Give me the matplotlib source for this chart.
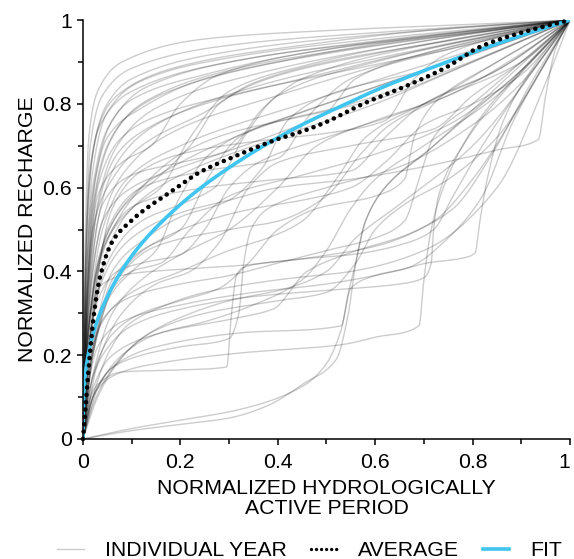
import numpy as np
import matplotlib
matplotlib.use("Agg")
import matplotlib.pyplot as plt
from matplotlib.lines import Line2D

plt.rcParams['font.family'] = ['Liberation Sans', 'DejaVu Sans']

# curves, (x, y) knots
year_curves = [
    [(0, 0), (0.004, 0.45), (0.012, 0.72), (0.03, 0.83), (0.08, 0.9), (0.25, 0.955), (0.5, 0.975), (0.8, 0.99), (1, 1)],
    [(0, 0), (0.005, 0.42), (0.015, 0.7), (0.04, 0.82), (0.1, 0.885), (0.3, 0.94), (0.6, 0.97), (1, 1)],
    [(0, 0), (0.006, 0.4), (0.018, 0.66), (0.045, 0.79), (0.1, 0.86), (0.3, 0.925), (0.6, 0.965), (1, 1)],
    [(0, 0), (0.007, 0.38), (0.02, 0.64), (0.05, 0.78), (0.12, 0.855), (0.3, 0.91), (0.6, 0.955), (1, 1)],
    [(0, 0), (0.008, 0.35), (0.025, 0.62), (0.06, 0.76), (0.13, 0.84), (0.35, 0.91), (0.7, 0.96), (1, 1)],
    [(0, 0), (0.008, 0.33), (0.025, 0.58), (0.06, 0.72), (0.12, 0.8), (0.3, 0.88), (0.6, 0.94), (1, 1)],
    [(0, 0), (0.01, 0.32), (0.03, 0.56), (0.07, 0.7), (0.15, 0.79), (0.35, 0.87), (0.7, 0.95), (1, 1)],
    [(0, 0), (0.01, 0.3), (0.03, 0.52), (0.07, 0.66), (0.15, 0.75), (0.35, 0.84), (0.65, 0.92), (1, 1)],
    [(0, 0), (0.01, 0.28), (0.035, 0.5), (0.08, 0.63), (0.18, 0.73), (0.4, 0.82), (0.7, 0.92), (1, 1)],
    [(0, 0), (0.012, 0.27), (0.04, 0.5), (0.09, 0.62), (0.2, 0.7), (0.45, 0.8), (0.75, 0.91), (1, 1)],
    [(0, 0), (0.006, 0.36), (0.02, 0.6), (0.05, 0.74), (0.1, 0.81), (0.25, 0.87), (0.5, 0.93), (0.8, 0.97), (1, 1)],
    [(0, 0), (0.005, 0.4), (0.015, 0.65), (0.04, 0.76), (0.1, 0.83), (0.3, 0.9), (0.6, 0.95), (1, 1)],
    [(0, 0), (0.01, 0.25), (0.04, 0.46), (0.1, 0.58), (0.2, 0.66), (0.4, 0.76), (0.6, 0.84), (0.8, 0.92), (1, 1)],
    [(0, 0), (0.015, 0.24), (0.05, 0.45), (0.1, 0.55), (0.2, 0.63), (0.4, 0.72), (0.6, 0.8), (0.8, 0.9), (1, 1)],
    [(0, 0), (0.007, 0.3), (0.02, 0.55), (0.05, 0.7), (0.1, 0.78), (0.2, 0.84), (0.4, 0.9), (0.7, 0.96), (1, 1)],
    [(0, 0), (0.006, 0.33), (0.02, 0.58), (0.05, 0.72), (0.12, 0.79), (0.25, 0.86), (0.5, 0.92), (1, 1)],
    [(0, 0), (0.01, 0.25), (0.04, 0.45), (0.1, 0.55), (0.16, 0.6), (0.22, 0.72), (0.3, 0.83), (0.45, 0.89), (0.7, 0.95), (1, 1)],
    [(0, 0), (0.01, 0.2), (0.05, 0.42), (0.12, 0.52), (0.2, 0.56), (0.27, 0.6), (0.33, 0.72), (0.4, 0.82), (0.6, 0.9), (1, 1)],
    [(0, 0), (0.01, 0.3), (0.04, 0.56), (0.1, 0.63), (0.2, 0.66), (0.3, 0.69), (0.37, 0.79), (0.45, 0.86), (0.7, 0.94), (1, 1)],
    [(0, 0), (0.015, 0.25), (0.05, 0.5), (0.12, 0.6), (0.25, 0.64), (0.4, 0.67), (0.47, 0.78), (0.55, 0.86), (0.75, 0.93), (1, 1)],
    [(0, 0), (0.02, 0.2), (0.06, 0.38), (0.12, 0.45), (0.2, 0.5), (0.26, 0.63), (0.32, 0.72), (0.45, 0.78), (0.65, 0.86), (0.85, 0.94), (1, 1)],
    [(0, 0), (0.01, 0.35), (0.03, 0.58), (0.08, 0.66), (0.14, 0.7), (0.2, 0.8), (0.28, 0.87), (0.5, 0.93), (1, 1)],
    [(0, 0), (0.02, 0.22), (0.06, 0.4), (0.13, 0.48), (0.2, 0.53), (0.3, 0.57), (0.37, 0.65), (0.42, 0.76), (0.5, 0.82), (0.7, 0.88), (1, 1)],
    [(0, 0), (0.01, 0.28), (0.04, 0.52), (0.1, 0.6), (0.18, 0.64), (0.28, 0.68), (0.4, 0.73), (0.5, 0.78), (0.56, 0.86), (0.7, 0.92), (1, 1)],
    [(0, 0), (0.015, 0.18), (0.05, 0.33), (0.1, 0.4), (0.15, 0.45), (0.2, 0.58), (0.26, 0.68), (0.35, 0.74), (0.55, 0.8), (0.75, 0.88), (1, 1)],
    [(0, 0), (0.02, 0.15), (0.06, 0.3), (0.12, 0.38), (0.2, 0.44), (0.3, 0.5), (0.4, 0.6), (0.48, 0.7), (0.6, 0.76), (0.75, 0.82), (0.9, 0.92), (1, 1)],
    [(0, 0), (0.01, 0.22), (0.03, 0.4), (0.07, 0.52), (0.12, 0.6), (0.2, 0.68), (0.3, 0.73), (0.45, 0.77), (0.6, 0.81), (0.8, 0.9), (1, 1)],
    [(0, 0), (0.02, 0.3), (0.06, 0.55), (0.12, 0.64), (0.2, 0.68), (0.35, 0.71), (0.5, 0.73), (0.62, 0.76), (0.68, 0.86), (0.75, 0.92), (1, 1)],
    [(0, 0), (0.01, 0.25), (0.05, 0.48), (0.11, 0.56), (0.25, 0.6), (0.4, 0.62), (0.55, 0.64), (0.62, 0.72), (0.7, 0.8), (0.85, 0.88), (1, 1)],
    [(0, 0), (0.02, 0.2), (0.07, 0.38), (0.15, 0.46), (0.3, 0.5), (0.4, 0.52), (0.5, 0.58), (0.57, 0.68), (0.63, 0.75), (0.75, 0.82), (0.9, 0.9), (1, 1)],
    [(0, 0), (0.01, 0.2), (0.04, 0.38), (0.1, 0.48), (0.2, 0.54), (0.3, 0.57), (0.4, 0.6), (0.55, 0.62), (0.7, 0.65), (0.85, 0.69), (0.935, 0.715), (0.95, 0.82), (0.97, 0.93), (1, 1)],
    [(0, 0), (0.02, 0.2), (0.08, 0.4), (0.15, 0.47), (0.25, 0.52), (0.35, 0.55), (0.45, 0.57), (0.55, 0.6), (0.62, 0.66), (0.7, 0.75), (0.8, 0.8), (0.9, 0.87), (1, 1)],
    [(0, 0), (0.03, 0.18), (0.08, 0.3), (0.15, 0.37), (0.22, 0.4), (0.28, 0.47), (0.34, 0.6), (0.4, 0.66), (0.55, 0.7), (0.72, 0.74), (0.8, 0.82), (0.9, 0.9), (1, 1)],
    [(0, 0), (0.1, 0.02), (0.2, 0.035), (0.3, 0.05), (0.38, 0.08), (0.45, 0.13), (0.52, 0.19), (0.545, 0.3), (0.56, 0.42), (0.58, 0.52), (0.62, 0.6), (0.7, 0.68), (0.8, 0.78), (0.9, 0.88), (1, 1)],
    [(0, 0), (0.1, 0.025), (0.2, 0.045), (0.32, 0.07), (0.45, 0.125), (0.5, 0.18), (0.53, 0.26), (0.55, 0.36), (0.6, 0.39), (0.67, 0.41), (0.75, 0.48), (0.82, 0.58), (0.88, 0.75), (0.95, 0.9), (1, 1)],
    [(0, 0), (0.01, 0.08), (0.03, 0.13), (0.08, 0.16), (0.2, 0.165), (0.295, 0.172), (0.305, 0.3), (0.315, 0.39), (0.33, 0.41), (0.45, 0.43), (0.6, 0.46), (0.72, 0.52), (0.8, 0.62), (0.9, 0.8), (1, 1)],
    [(0, 0), (0.01, 0.06), (0.03, 0.12), (0.08, 0.16), (0.15, 0.18), (0.32, 0.205), (0.53, 0.225), (0.6, 0.243), (0.69, 0.27), (0.7, 0.38), (0.715, 0.5), (0.74, 0.6), (0.8, 0.74), (0.9, 0.88), (1, 1)],
    [(0, 0), (0.02, 0.12), (0.06, 0.2), (0.15, 0.25), (0.32, 0.29), (0.39, 0.31), (0.46, 0.4), (0.55, 0.445), (0.67, 0.49), (0.76, 0.55), (0.84, 0.68), (0.92, 0.85), (1, 1)],
    [(0, 0), (0.02, 0.1), (0.07, 0.18), (0.15, 0.22), (0.32, 0.253), (0.53, 0.27), (0.545, 0.35), (0.56, 0.42), (0.58, 0.52), (0.62, 0.6), (0.72, 0.7), (0.85, 0.84), (1, 1)],
    [(0, 0), (0.01, 0.12), (0.03, 0.22), (0.08, 0.28), (0.2, 0.32), (0.35, 0.35), (0.5, 0.37), (0.65, 0.403), (0.706, 0.42), (0.78, 0.432), (0.805, 0.444), (0.815, 0.52), (0.83, 0.62), (0.86, 0.75), (0.92, 0.88), (1, 1)],
    [(0, 0), (0.005, 0.15), (0.015, 0.3), (0.04, 0.37), (0.1, 0.395), (0.2, 0.405), (0.33, 0.415), (0.45, 0.43), (0.55, 0.44), (0.67, 0.47), (0.72, 0.5), (0.76, 0.58), (0.82, 0.7), (0.9, 0.84), (1, 1)],
    [(0, 0), (0.01, 0.1), (0.04, 0.2), (0.1, 0.27), (0.2, 0.31), (0.35, 0.34), (0.5, 0.355), (0.65, 0.37), (0.7, 0.385), (0.715, 0.42), (0.72, 0.5), (0.73, 0.58), (0.78, 0.7), (0.88, 0.85), (1, 1)],
    [(0, 0), (0.02, 0.1), (0.06, 0.17), (0.12, 0.2), (0.2, 0.22), (0.3, 0.24), (0.32, 0.3), (0.33, 0.42), (0.345, 0.5), (0.38, 0.55), (0.5, 0.6), (0.65, 0.65), (0.8, 0.75), (0.9, 0.85), (1, 1)],
    [(0, 0), (0.03, 0.12), (0.08, 0.2), (0.15, 0.25), (0.25, 0.28), (0.35, 0.32), (0.45, 0.38), (0.5, 0.45), (0.55, 0.55), (0.6, 0.62), (0.7, 0.7), (0.85, 0.82), (1, 1)],
    [(0, 0), (0.02, 0.15), (0.06, 0.25), (0.12, 0.3), (0.2, 0.33), (0.28, 0.36), (0.34, 0.42), (0.4, 0.5), (0.48, 0.55), (0.6, 0.58), (0.66, 0.62), (0.68, 0.72), (0.72, 0.8), (0.85, 0.9), (1, 1)],
    [(0, 0), (0.015, 0.2), (0.05, 0.3), (0.1, 0.34), (0.2, 0.37), (0.3, 0.39), (0.4, 0.42), (0.5, 0.45), (0.6, 0.48), (0.66, 0.52), (0.69, 0.62), (0.72, 0.72), (0.8, 0.8), (0.9, 0.9), (1, 1)],
    [(0, 0), (0.01, 0.15), (0.04, 0.28), (0.1, 0.35), (0.2, 0.4), (0.3, 0.45), (0.38, 0.48), (0.45, 0.52), (0.52, 0.62), (0.58, 0.72), (0.7, 0.8), (0.85, 0.88), (1, 1)],
    [(0, 0), (0.02, 0.08), (0.05, 0.15), (0.1, 0.22), (0.15, 0.26), (0.25, 0.3), (0.4, 0.33), (0.5, 0.35), (0.56, 0.42), (0.6, 0.5), (0.66, 0.56), (0.75, 0.62), (0.85, 0.72), (0.95, 0.9), (1, 1)],
    [(0, 0), (0.01, 0.2), (0.03, 0.33), (0.07, 0.4), (0.12, 0.42), (0.2, 0.44), (0.25, 0.5), (0.3, 0.6), (0.36, 0.66), (0.5, 0.72), (0.7, 0.8), (0.85, 0.9), (1, 1)],
    [(0, 0), (0.01, 0.18), (0.04, 0.32), (0.1, 0.4), (0.16, 0.42), (0.22, 0.5), (0.3, 0.58), (0.45, 0.63), (0.6, 0.68), (0.75, 0.75), (0.9, 0.88), (1, 1)],
    [(0, 0), (0.008, 0.3), (0.03, 0.55), (0.07, 0.68), (0.13, 0.74), (0.25, 0.8), (0.45, 0.86), (0.7, 0.93), (1, 1)],
    [(0, 0), (0.01, 0.35), (0.03, 0.6), (0.08, 0.72), (0.15, 0.77), (0.3, 0.82), (0.5, 0.87), (0.75, 0.93), (1, 1)],
    [(0, 0), (0.004, 0.35), (0.012, 0.6), (0.03, 0.74), (0.07, 0.82), (0.2, 0.89), (0.45, 0.94), (0.75, 0.98), (1, 1)],
    [(0, 0), (0.006, 0.3), (0.02, 0.5), (0.06, 0.62), (0.12, 0.7), (0.25, 0.78), (0.35, 0.85), (0.5, 0.9), (0.75, 0.95), (1, 1)],
    [(0, 0), (0.01, 0.22), (0.03, 0.42), (0.08, 0.55), (0.15, 0.62), (0.22, 0.7), (0.28, 0.8), (0.38, 0.86), (0.6, 0.92), (1, 1)],
    [(0, 0), (0.02, 0.1), (0.05, 0.2), (0.09, 0.27), (0.15, 0.31), (0.25, 0.35), (0.4, 0.38), (0.55, 0.4), (0.7, 0.45), (0.85, 0.6), (0.95, 0.85), (1, 1)],
    [(0, 0), (0.03, 0.1), (0.07, 0.18), (0.12, 0.24), (0.2, 0.29), (0.3, 0.33), (0.42, 0.36), (0.5, 0.4), (0.56, 0.48), (0.65, 0.56), (0.8, 0.7), (1, 1)],
]

avg_x = [0, 0.003, 0.008, 0.014, 0.021, 0.035, 0.062, 0.097, 0.117, 0.185, 0.24, 0.308,
         0.377, 0.405, 0.439, 0.494, 0.575, 0.678, 0.747, 0.815, 0.918, 1.0]
avg_y = [0, 0.04, 0.12, 0.2, 0.284, 0.387, 0.475, 0.519, 0.539, 0.594, 0.637, 0.673,
         0.706, 0.718, 0.73, 0.754, 0.80, 0.85, 0.888, 0.936, 0.976, 1.0]

fit_x = [0, 0.0007, 0.003, 0.0076, 0.021, 0.035, 0.069, 0.11, 0.172, 0.24, 0.308,
         0.377, 0.446, 0.54, 0.61, 0.713, 0.815, 0.91, 1.0]
fit_y = [0, 0.07, 0.13, 0.18, 0.252, 0.3, 0.382, 0.452, 0.53, 0.598, 0.654,
         0.704, 0.748, 0.80, 0.837, 0.885, 0.929, 0.967, 1.0]


def pchip(xk, yk, xs):
    # monotone cubic through the knots
    xk = np.asarray(xk, float)
    yk = np.asarray(yk, float)
    h = np.diff(xk)
    d = np.diff(yk) / h
    m = np.zeros_like(xk)
    m[0], m[-1] = d[0], d[-1]
    for i in range(1, len(xk) - 1):
        if d[i - 1] * d[i] > 0:
            w1 = 2 * h[i] + h[i - 1]
            w2 = h[i] + 2 * h[i - 1]
            m[i] = (w1 + w2) / (w1 / d[i - 1] + w2 / d[i])
    idx = np.clip(np.searchsorted(xk, xs) - 1, 0, len(xk) - 2)
    t = (xs - xk[idx]) / h[idx]
    h00 = 2 * t**3 - 3 * t**2 + 1
    h10 = t**3 - 2 * t**2 + t
    h01 = -2 * t**3 + 3 * t**2
    h11 = t**3 - t**2
    return h00 * yk[idx] + h10 * h[idx] * m[idx] + h01 * yk[idx + 1] + h11 * h[idx] * m[idx + 1]


xs = np.concatenate([np.linspace(0, 0.05, 200), np.linspace(0.05, 1, 600)[1:]])

fs = 15.3
fig = plt.figure(figsize=(5.74, 5.59), dpi=100)
ax = fig.add_axes([0.1446, 0.2147, 0.8484, 0.7493])

for c in year_curves:
    cx = [p[0] for p in c]
    cy = [p[1] for p in c]
    ax.plot(xs, pchip(cx, cy, xs), color='k', alpha=0.2, lw=1.0)

ax.plot(xs, pchip(fit_x, fit_y, xs), color='#40c4f0', lw=2.6, solid_capstyle='round')
ax.plot(xs, pchip(avg_x, avg_y, xs), color='k', lw=3.3, ls=(0, (0.01, 1.6)),
        dash_capstyle='round', clip_on=False)

ax.set_xlim(0, 1)
ax.set_ylim(0, 1)
ticks = [0, 0.2, 0.4, 0.6, 0.8, 1]
labels = ['0', '0.2', '0.4', '0.6', '0.8', '1']
ax.set_xticks(ticks, labels)
ax.set_yticks(ticks, labels)
ax.set_xticks([0.1, 0.3, 0.5, 0.7, 0.9], minor=True)
ax.set_yticks([0.1, 0.3, 0.5, 0.7, 0.9], minor=True)
ax.tick_params(which='major', direction='out', length=4, width=1.1, labelsize=fs, pad=4)
ax.tick_params(axis='x', which='major', pad=6)
ax.tick_params(which='minor', direction='out', length=3.5, width=1.1)
ax.get_xticklabels()[-1].set_horizontalalignment('right')
ax.get_xticklabels()[-1].set_x(1.0)
for s in ['top', 'right']:
    ax.spines[s].set_visible(False)
for s in ['left', 'bottom']:
    ax.spines[s].set_linewidth(1.1)

ax.set_xlabel('NORMALIZED HYDROLOGICALLY\nACTIVE PERIOD', fontsize=fs, linespacing=1.08, labelpad=5)
ax.set_ylabel('NORMALIZED RECHARGE', fontsize=fs, labelpad=4)

handles = [
    Line2D([], [], color='k', alpha=0.2, lw=1.0),
    Line2D([], [], color='k', lw=2.4, ls=(0, (0.01, 1.5)), dash_capstyle='round'),
    Line2D([], [], color='#40c4f0', lw=2.6),
]
fig.legend(handles, ['INDIVIDUAL YEAR', 'AVERAGE', 'FIT'], loc='lower center',
           bbox_to_anchor=(0.54, -0.036), ncol=3, frameon=False, fontsize=fs,
           handlelength=1.25, handletextpad=1.0, columnspacing=1.1)

fig.savefig('out.png', dpi=100)
